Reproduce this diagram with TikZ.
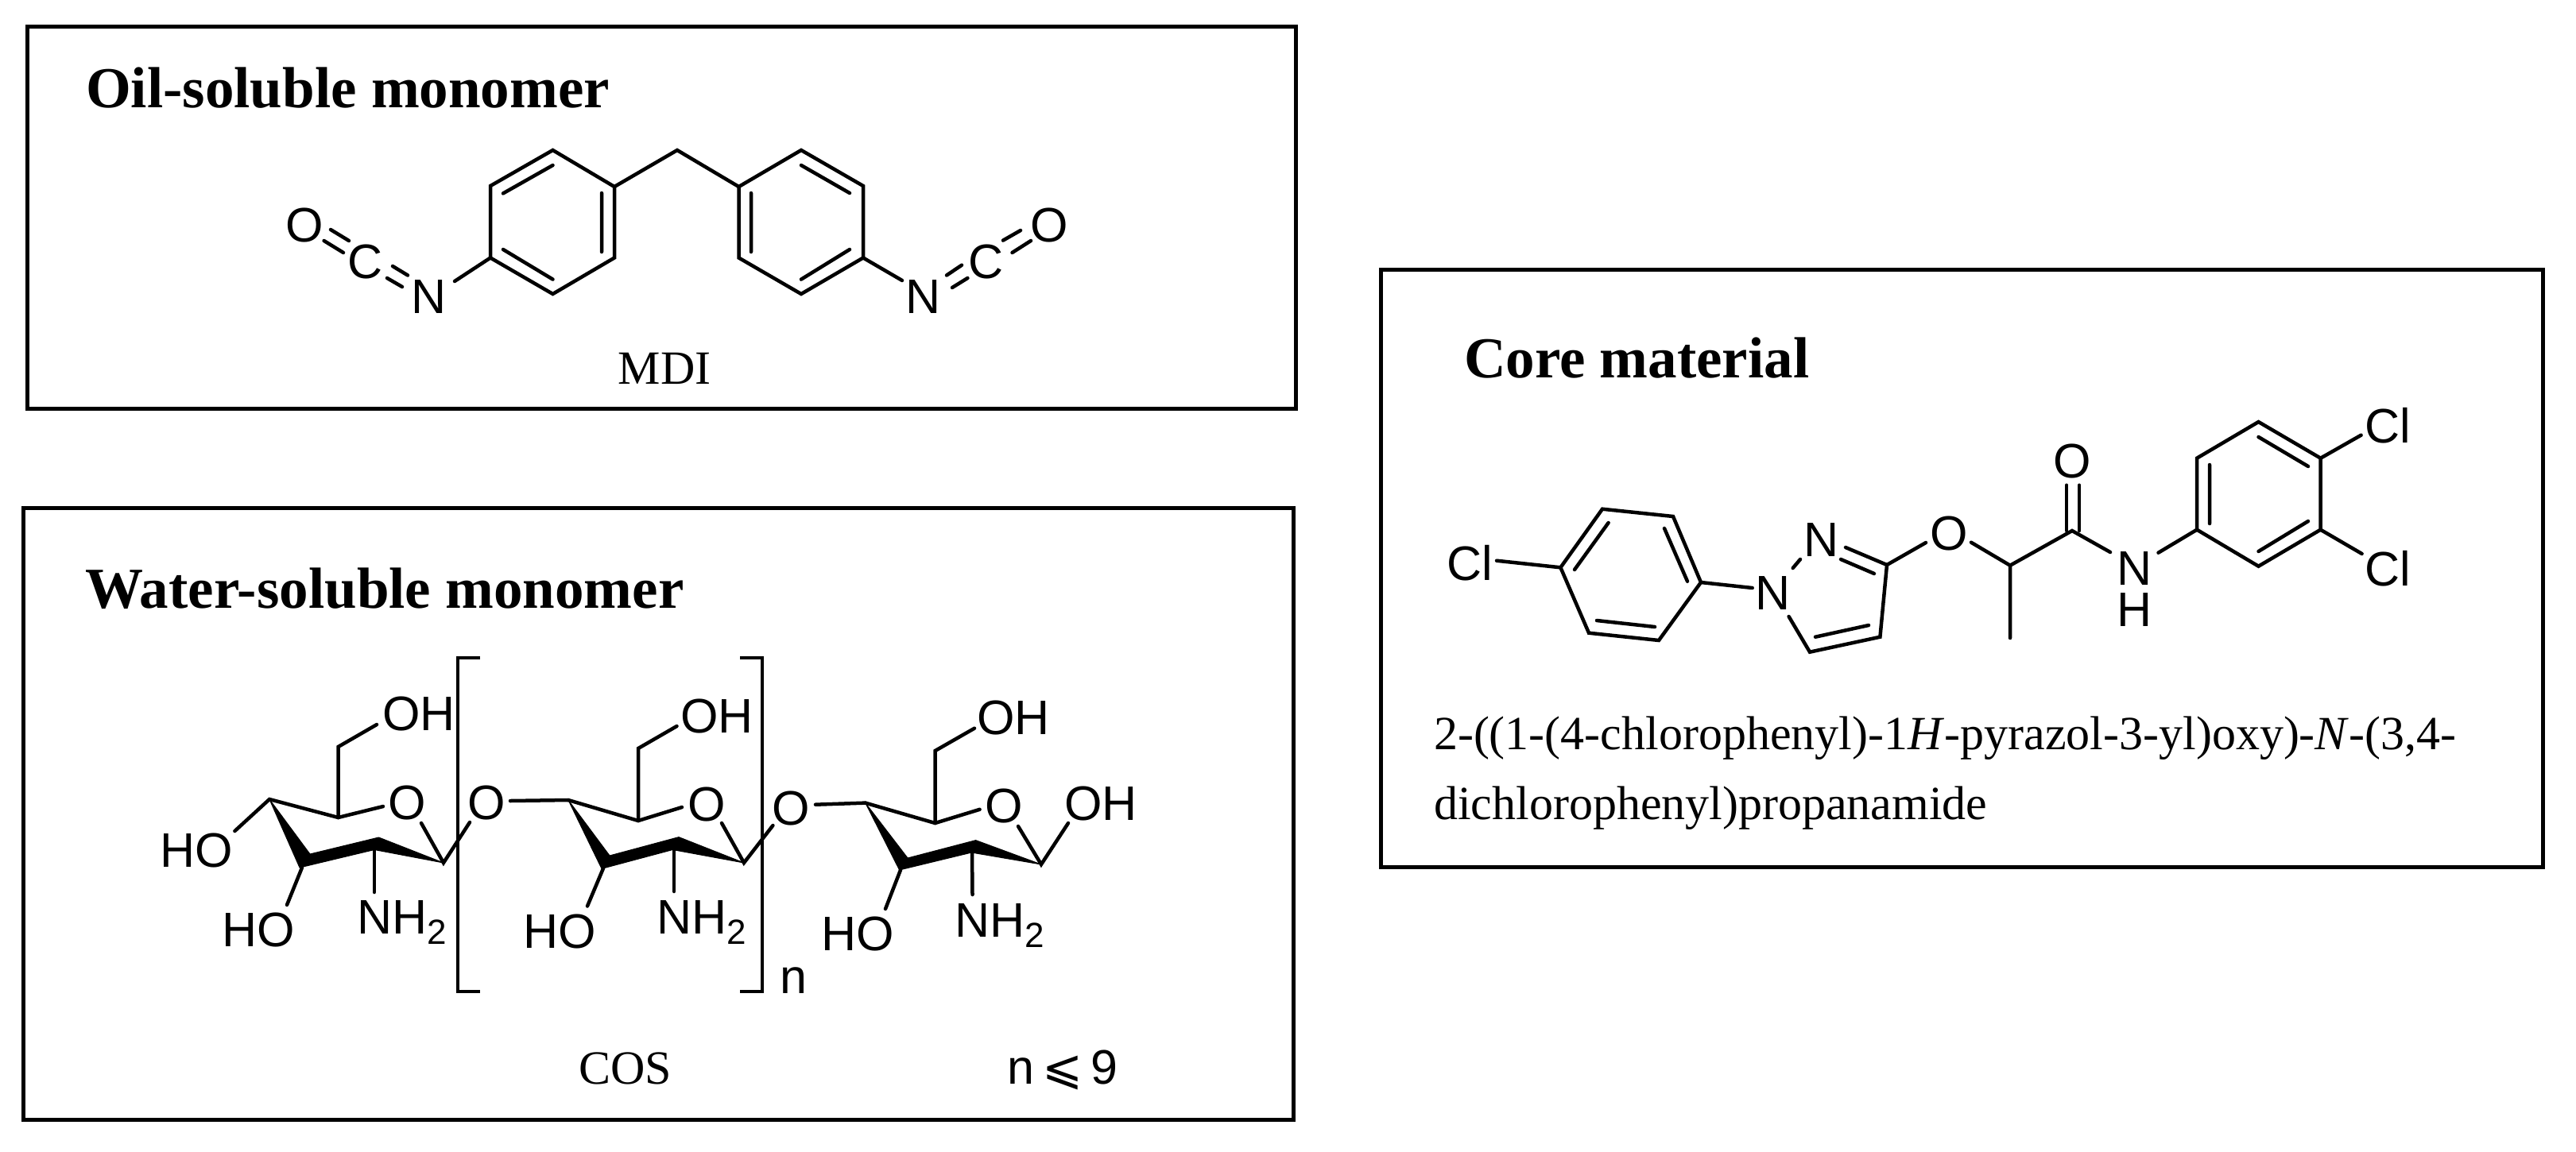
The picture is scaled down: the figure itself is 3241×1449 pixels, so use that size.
\documentclass[tikz,border=0pt]{standalone}
\usepackage{fontspec}
\setmainfont{Liberation Serif}
\setsansfont{Liberation Sans}
\newfontfamily\symfont{DejaVu Sans}
\tikzset{
  x=1pt,y=-1pt,
  box/.style={draw=black,line width=4.5pt,fill=none},
  bond/.style={line width=4.5pt,line cap=round,line join=miter,draw=black},
  wedgefill/.style={fill=black,draw=black,line width=1pt,line join=round},
  atom/.style={inner sep=0pt,outer sep=0pt,anchor=base,font=\fontsize{61}{70}\selectfont\sffamily},
  atomw/.style={atom,anchor=base west},
  atome/.style={atom,anchor=base east},
  heading/.style={inner sep=0pt,outer sep=0pt,anchor=base west,font=\fontsize{73}{84}\selectfont\bfseries},
  caption/.style={inner sep=0pt,outer sep=0pt,anchor=base west,font=\fontsize{60}{70}\selectfont},
}
\newcommand{\nhtwo}{NH\raisebox{-13pt}{\fontsize{44}{44}\selectfont 2}}
\begin{document}
\begin{tikzpicture}
\useasboundingbox (0,0) rectangle (3241,1449);
\fill[white] (0,0) rectangle (3241,1449);

% boxes
\node[box,inner sep=0pt,minimum width=1596pt,minimum height=481pt,anchor=north west] (oilbox) at (32,31) {};
\node[box,inner sep=0pt,minimum width=1598pt,minimum height=770pt,anchor=north west] (waterbox) at (27,637) {};
\node[box,inner sep=0pt,minimum width=1462pt,minimum height=752pt,anchor=north west] (corebox) at (1735,337) {};

% headings and captions
\node[heading] (h1) at (108,135) {Oil-soluble monomer};
\node[heading] (h2) at (107,765) {Water-soluble monomer};
\node[heading] (h3) at (1842,475) {Core material};
\node[caption,anchor=base] (mdi) at (836,483) {MDI};
\node[caption,anchor=base] (cos) at (787,1364) {COS};
\node[caption] (name1) at (1804,943) {2-((1-(4-chlorophenyl)-1\textit{H}-pyrazol-3-yl)oxy)-\textit{N}-(3,4-};
\node[caption] (name2) at (1804,1031) {dichlorophenyl)propanamide};

% MDI
\draw[bond] (695.5,189) -- (773,235) -- (773,324.5) -- (695.5,370) -- (617,324.5) -- (617,234) -- cycle;
\draw[bond] (695.5,208) -- (633,243.4) (757,243) -- (757,317) (633,314) -- (695.5,351.6);
\draw[bond] (773,235) -- (852,189) -- (929.5,235);
\draw[bond] (1008,189) -- (1086,234) -- (1086,324.5) -- (1008,370) -- (929.5,324.5) -- (929.5,235) -- cycle;
\draw[bond] (1008,208) -- (1069,243) (945,243) -- (945,317) (1069,314) -- (1008,351.6);
\draw[bond] (617,324.5) -- (572,354);
\draw[bond] (1086,324.5) -- (1135,353);
\draw[bond] (416,289) -- (439,303) (407.6,303) -- (432,318);
\draw[bond] (494,335) -- (513,346.5) (487,350) -- (506,361);
\draw[bond] (1284,290) -- (1262,302.6) (1297,303) -- (1273.5,318);
\draw[bond] (1210,333.7) -- (1191,346.5) (1217.4,350) -- (1198,362);
\node[atom] (mN1) at (540,394) {N};
\node[atom] (mC1) at (460,350) {C};
\node[atom] (mO1) at (383,304) {O};
\node[atom] (mN2) at (1162,394) {N};
\node[atom] (mC2) at (1241,350) {C};
\node[atom] (mO2) at (1320,304) {O};

% COS ring 1
\fill[wedgefill] (339,1006) -- (390,1075) -- (476.5,1054) -- (558,1086) -- (471,1069.5) -- (377,1092) -- cycle;
\draw[bond] (295.4,1046) -- (339,1006) -- (425.5,1029) -- (482,1015);
\draw[bond] (425.5,1029) -- (425.5,940) -- (474,912);
\draw[bond] (530,1036) -- (558,1086) -- (591,1035);
\draw[bond] (380,1092) -- (361,1139);
\draw[bond] (471,1069.5) -- (471,1123);
\node[atomw] (oh1) at (481,919) {OH};
\node[atom] (ro1) at (512,1031) {O};
\node[atomw] (ho1) at (201,1091) {HO};
\node[atomw] (ho2) at (279,1191) {HO};
\node[atomw] (nh1) at (449,1175) {\nhtwo};

% brackets
\draw[bond,line cap=butt] (604,828) -- (576,828) -- (576,1248) -- (604,1248);
\draw[bond,line cap=butt] (931,828) -- (959,828) -- (959,1248) -- (931,1248);
\node[atomw] (nlab) at (981,1250) {n};

% glycosidic O 1
\node[atom] (go1) at (612,1031) {O};
\draw[bond] (642,1008) -- (715,1007);

% COS ring 2
\fill[wedgefill] (715,1007) -- (767,1077) -- (854,1053.6) -- (936,1086) -- (846.4,1069.5) -- (757,1093.4) -- cycle;
\draw[bond] (715,1007) -- (803,1033) -- (858,1016);
\draw[bond] (803,1033) -- (803,942) -- (851.5,914);
\draw[bond] (908,1036) -- (936,1086) -- (972.4,1039);
\draw[bond] (759,1093) -- (739,1140.5);
\draw[bond] (848,1069.5) -- (848,1122);
\node[atomw] (oh2) at (856,922) {OH};
\node[atom] (ro2) at (889,1033) {O};
\node[atomw] (ho3) at (658,1193) {HO};
\node[atomw] (nh2) at (826,1175) {\nhtwo};

% glycosidic O 2
\node[atom] (go2) at (995,1038) {O};
\draw[bond] (1026,1012.7) -- (1088.8,1010.6);

% COS ring 3
\fill[wedgefill] (1088.8,1010.6) -- (1142,1080) -- (1227.6,1057.6) -- (1310,1088) -- (1222.4,1073) -- (1131.6,1095) -- cycle;
\draw[bond] (1088.8,1010.6) -- (1176.5,1036) -- (1232.6,1018.8);
\draw[bond] (1176.5,1036) -- (1176.5,945) -- (1226,916.7);
\draw[bond] (1281,1040) -- (1310,1088) -- (1344,1036);
\draw[bond] (1133,1095) -- (1114,1144);
\draw[bond] (1223,1073) -- (1223.5,1126);
\node[atomw] (oh3) at (1229,924) {OH};
\node[atom] (ro3) at (1263,1035) {O};
\node[atomw] (oh4) at (1339,1032) {OH};
\node[atomw] (ho4) at (1033,1196) {HO};
\node[atomw] (nh3) at (1201,1179) {\nhtwo};

% n<=9
\node[atomw] (nle) at (1267,1364) {n\,{\symfont\char"2A7D}\,9};

% Core structure
\draw[bond] (1963.4,714.3) -- (2016,640.7) -- (2105,650) -- (2140,733) -- (2087,806) -- (1999,796.7) -- cycle;
\draw[bond] (2023.6,658) -- (1981,717) (2094,665) -- (2123,731.7) (2009,781) -- (2082,789);
\draw[bond] (1883,705.7) -- (1963.4,714.3);
\draw[bond] (2140,733) -- (2204.7,740);
\draw[bond] (2255.7,715) -- (2265,704);
\draw[bond] (2322,689) -- (2374,711) (2316,704) -- (2358,722);
\draw[bond] (2374,711) -- (2365.4,801.7) -- (2277,820.7) -- (2250.6,776);
\draw[bond] (2284,801.7) -- (2351,787);
\draw[bond] (2374,711) -- (2423,683);
\draw[bond] (2480,682.7) -- (2529,711.7) -- (2529,803);
\draw[bond] (2529,711.7) -- (2607,668) -- (2655,695);
\draw[bond] (2600,610.7) -- (2600,668) (2616,610.7) -- (2616,668);
\draw[bond] (2715.5,695.7) -- (2764,666.7);
\draw[bond] (2764,666.7) -- (2764,576.7) -- (2841.5,531) -- (2919.6,576.7) -- (2919.6,666.7) -- (2841.5,712.7) -- cycle;
\draw[bond] (2780,585) -- (2780,659) (2841.5,550) -- (2904,587) (2841.5,694) -- (2904,656);
\draw[bond] (2919.6,576.7) -- (2970.6,547.7);
\draw[bond] (2919.6,666.7) -- (2971.6,697);
\node[atomw] (cl1) at (1820,730) {Cl};
\node[atom] (n1) at (2230,767) {N};
\node[atom] (n2) at (2291,700) {N};
\node[atom] (o1) at (2452,692) {O};
\node[atom] (o2) at (2607,601) {O};
\node[atom] (n3) at (2685,736) {N};
\node[atom] (h3a) at (2685,788) {H};
\node[atomw] (cl2) at (2975,557) {Cl};
\node[atomw] (cl3) at (2975,737) {Cl};
\end{tikzpicture}
\end{document}
